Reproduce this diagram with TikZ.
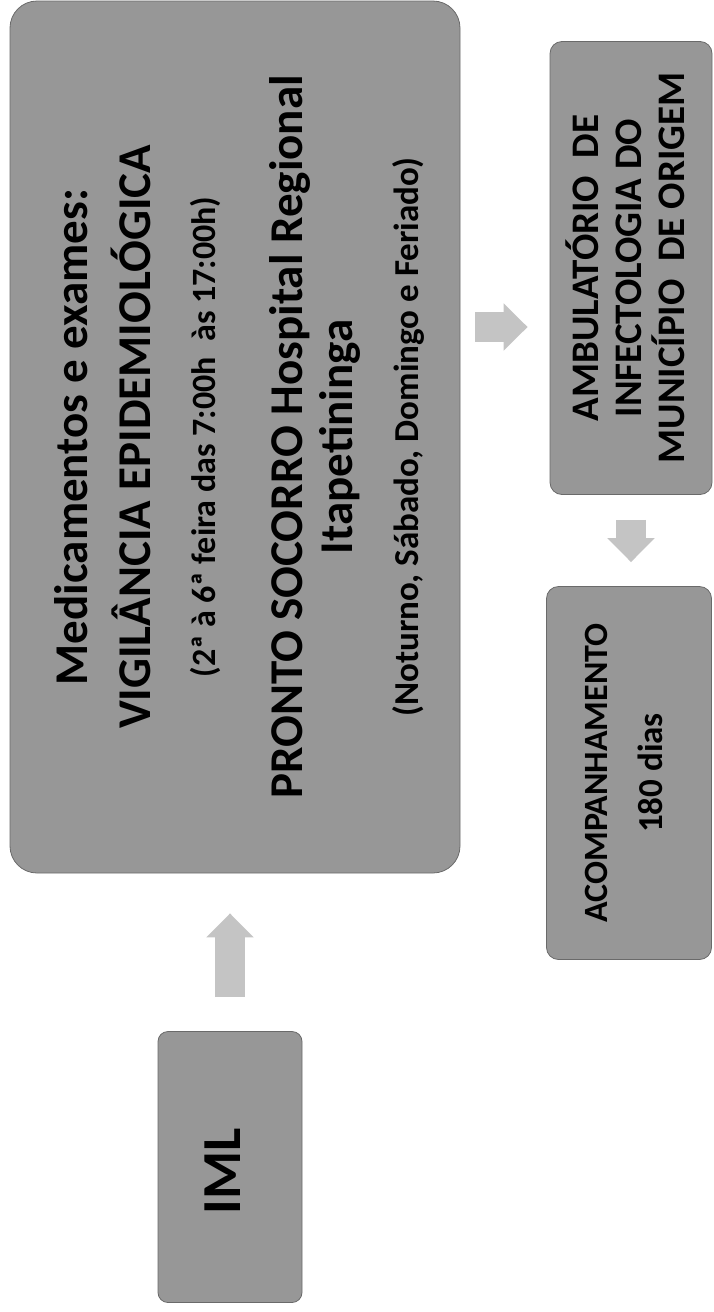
\documentclass[tikz,border=0pt]{standalone}
\usepackage{fontspec}
\setmainfont{Carlito}
\usetikzlibrary{arrows.meta, positioning, calc}
\definecolor{cBox}{HTML}{979797}
\definecolor{cBoxB}{HTML}{6A6A6A}
\definecolor{cArr}{HTML}{C4C4C4}

\begin{document}
\begin{tikzpicture}[
  x=1pt, y=-1pt,
  font=\bfseries,
  box/.style={draw=cBoxB, fill=cBox, line width=0.8pt, rounded corners=12pt, inner sep=0pt},
  rtxt/.style={rotate=90, anchor=base, inner sep=0pt, text=black},
  big/.style={rtxt, font=\bfseries\fontsize{47}{56}\selectfont},
  small/.style={rtxt, font=\bfseries\fontsize{35}{42}\selectfont},
  mid/.style={rtxt, font=\bfseries\fontsize{39}{47}\selectfont},
  blk/.style={-{Triangle[length=24pt, width=46pt]}, line width=30pt, draw=cArr}
]
\useasboundingbox (0,0) rectangle (714,1312);

% BOXES
\node[box, rounded corners=27pt, minimum width=450pt, minimum height=872pt] (main) at (235,437) {};
\node[box, rounded corners=10pt, minimum width=144pt, minimum height=271pt] (iml) at (230,1167) {};
\node[box, minimum width=162pt, minimum height=453pt] (ambul) at (631,268) {};
\node[box, minimum width=165pt, minimum height=373pt] (acomp) at (629,773) {};

% MAIN BOX TEXT
\node[big] (m1) at (87,437) {Medicamentos e exames:};
\node[big] (m2) at (150,437) {VIGILÂNCIA EPIDEMIOLÓGICA};
\node[small, font=\bfseries\fontsize{34}{41}\selectfont] (m3) at (215,437) {(2ª à 6ª feira das 7:00h\ \ às 17:00h)};
\node[big] (m4) at (302,437) {PRONTO SOCORRO Hospital Regional};
\node[big] (m5) at (352,437) {Itapetininga};
\node[small] (m6) at (418,437) {(Noturno, Sábado, Domingo e Feriado)};

% SIDE BOXES TEXT
\node[rtxt, font=\bfseries\fontsize{55}{66}\selectfont] (i1) at (240,1171) {IML};
\node[mid] (a1) at (598,268) {AMBULATÓRIO\ \ DE};
\node[mid] (a2) at (641,268) {INFECTOLOGIA DO};
\node[mid] (a3) at (684,268) {MUNICÍPIO\ \ DE ORIGEM};
\node[rtxt, font=\bfseries\fontsize{34}{41}\selectfont] (c1) at (607,773) {ACOMPANHAMENTO};
\node[rtxt, font=\bfseries\fontsize{35}{42}\selectfont] (c2) at (662,773) {180 dias};

% ARROWS
\coordinate (mr) at ([yshift=110pt]main.east);
\draw[blk, shorten <=34pt, shorten >=40pt] (iml.north) -- (iml.north |- main.south);
\draw[blk, shorten <=15pt, shorten >=22pt] (mr) -- (mr -| ambul.west);
\draw[blk, shorten <=25pt, shorten >=24pt] (ambul.south) -- (ambul.south |- acomp.north);

\end{tikzpicture}
\end{document}
